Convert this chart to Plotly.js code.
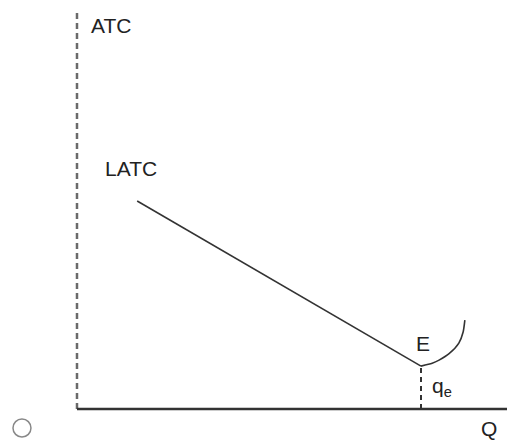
<!DOCTYPE html>
<html>
<head>
<meta charset="utf-8">
<script src="https://cdn.plot.ly/plotly-3.0.1.min.js"></script>
<style>
  html, body { margin: 0; padding: 0; background: #fff; }
  #chart { width: 507px; height: 441px; }
</style>
</head>
<body>
<div id="chart"></div>
<script>
// long-run average cost (Q and ATC on a 0-100 scale)
const latcQ = [14, 80];
const latcC = [52.4, 10.8];

// rising part of the curve after the minimum E
const curveQ = [80, 82.6, 84.2, 86.6, 88.8, 89.8, 90.2];
const curveC = [10.8, 11.5, 12.3, 14.0, 16.6, 19.4, 22.4];

// the efficient quantity q_e
const qeQ = 80;
const qeC = 10.8;

const axisTop = 100;
const axisRight = 100;

const font = { family: 'Liberation Sans, Arial, sans-serif', size: 21, color: '#222' };

const traces = [
    { // vertical ATC axis, dashed
        x: [0, 0], y: [0, axisTop],
        mode: 'lines', line: { color: '#6a6a6a', width: 2.5, dash: '6px,4px' },
        hoverinfo: 'skip'
    },
    { // horizontal Q axis
        x: [0, axisRight], y: [0, 0],
        mode: 'lines', line: { color: '#333', width: 2.5 },
        hoverinfo: 'skip'
    },
    { // LATC straight part
        x: latcQ, y: latcC,
        mode: 'lines', line: { color: '#333', width: 1.6 }
    },
    { // rising part
        x: curveQ, y: curveC,
        mode: 'lines', line: { color: '#333', width: 1.6, shape: 'spline', smoothing: 0.6 }
    },
    { // dashed drop line to q_e
        x: [qeQ, qeQ], y: [0, qeC],
        mode: 'lines', line: { color: '#333', width: 2, dash: '5px,4px' }
    }
];

const layout = {
    width: 507,
    height: 441,
    margin: { l: 72, r: 0, t: 10, b: 27 },
    paper_bgcolor: '#fff',
    plot_bgcolor: '#fff',
    showlegend: false,
    xaxis: { range: [-1.16, axisRight], visible: false, fixedrange: true },
    yaxis: { range: [-1.26, axisTop + 0.5], visible: false, fixedrange: true },
    annotations: [
        { x: 7.9, y: 96.5, text: 'ATC', showarrow: false, font: font },
        { x: 12.6, y: 60.5, text: 'LATC', showarrow: false, font: font },
        { x: 80.5, y: 16.4, text: 'E', showarrow: false, font: font },
        { x: 82.1, y: 5.5, text: 'q<sub>e</sub>', showarrow: false, xanchor: 'left', font: font },
        { xref: 'paper', yref: 'paper', x: 0.9586, y: -0.0347, xanchor: 'center', yanchor: 'middle',
          text: 'Q', showarrow: false, font: font }
    ],
    shapes: [
        { // radio button circle in the corner
            type: 'circle', xref: 'paper', yref: 'paper',
            xsizemode: 'pixel', ysizemode: 'pixel',
            xanchor: -0.115, yanchor: -0.0347,
            x0: -9, x1: 9, y0: -9, y1: 9,
            line: { color: '#888', width: 1.5 }, fillcolor: '#fff'
        }
    ]
};

Plotly.newPlot('chart', traces, layout, { displayModeBar: false, staticPlot: true });
</script>
</body>
</html>
